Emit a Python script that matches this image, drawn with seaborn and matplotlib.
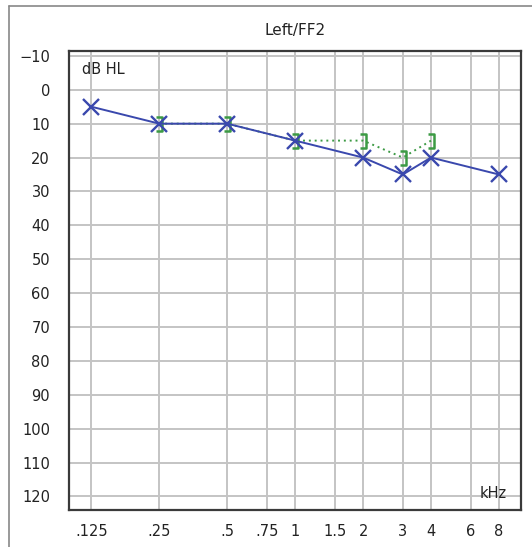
import numpy as np
import pandas as pd
import seaborn as sns
import matplotlib.pyplot as plt
from matplotlib.path import Path
from matplotlib.lines import Line2D

# audiogram values (dB HL)
tick_freqs = [0.125, 0.25, 0.5, 0.75, 1, 1.5, 2, 3, 4, 6, 8]
tick_labels = ['.125', '.25', '.5', '.75', '1', '1.5', '2', '3', '4', '6', '8']
db_ticks = list(range(-10, 130, 10))

air_freqs = [0.125, 0.25, 0.5, 1, 2, 3, 4, 8]
air_db = [5, 10, 10, 15, 20, 25, 20, 25]

bone_freqs = [0.25, 0.5, 1, 2, 3, 4]
bone_db = [10, 10, 15, 15, 20, 15]

blue = '#3a48ad'
green = '#3c9a44'

sns.set_style('white')
plt.rcParams['font.family'] = ['DejaVu Sans']
plt.rcParams['font.size'] = 10.5

fig = plt.figure(figsize=(5.32, 5.47), dpi=100)
ax = fig.add_axes([0.1306, 0.0676, 0.8484, 0.8383])

air = pd.DataFrame({'freq': air_freqs, 'db': air_db})
bone = pd.DataFrame({'freq': bone_freqs, 'db': bone_db})

# bone conduction "]" marker
bracket = Path([(-0.5, 1), (0.5, 1), (0.5, -1), (-0.5, -1)],
               [Path.MOVETO, Path.LINETO, Path.LINETO, Path.LINETO])

sns.lineplot(data=bone, x='freq', y='db', ax=ax, color=green, lw=1.4,
             linestyle=(0, (1, 2)), marker=bracket, markersize=9.5,
             markerfacecolor='none', markeredgecolor=green, markeredgewidth=1.8,
             zorder=3)
sns.lineplot(data=air, x='freq', y='db', ax=ax, color=blue, lw=1.4,
             marker='x', markersize=12, markeredgewidth=1.7,
             markeredgecolor=blue, zorder=4)

ax.set_xscale('log')
ax.set_xlim(0.1, 10)
ax.set_ylim(124, -11.3)
ax.set_xticks(tick_freqs)
ax.set_xticklabels(tick_labels)
ax.xaxis.set_minor_locator(plt.NullLocator())
ax.set_yticks(db_ticks)
ax.set_yticklabels([('\u2212%d' % -v) if v < 0 else str(v) for v in db_ticks])
ax.tick_params(axis='both', length=0, labelcolor='#222222', labelsize=10.5)
ax.tick_params(axis='y', pad=14)
ax.tick_params(axis='x', pad=10)
ax.set_xlabel('')
ax.set_ylabel('')
ax.grid(True, color='#c4c4c4', lw=1.4)
ax.set_axisbelow(True)
for s in ax.spines.values():
    s.set_color('#3a3a3a')
    s.set_linewidth(1.6)

ax.text(0.028, 0.96, 'dB HL', transform=ax.transAxes, ha='left', va='center',
        fontsize=10.5, color='#222222')
ax.text(0.938, 0.037, 'kHz', transform=ax.transAxes, ha='center', va='center',
        fontsize=10.5, color='#222222')

fig.text(295 / 532, 1 - 30 / 547, 'Left/FF2', ha='center', va='center',
         fontsize=11, color='#222222')

# outer frame (top and left edges)
fig.add_artist(Line2D([9 / 532, 1], [1 - 6 / 547, 1 - 6 / 547],
                      transform=fig.transFigure, color='#888888', lw=1.2))
fig.add_artist(Line2D([9 / 532, 9 / 532], [0, 1 - 6 / 547],
                      transform=fig.transFigure, color='#888888', lw=1.2))

fig.savefig('out.png', dpi=100)
